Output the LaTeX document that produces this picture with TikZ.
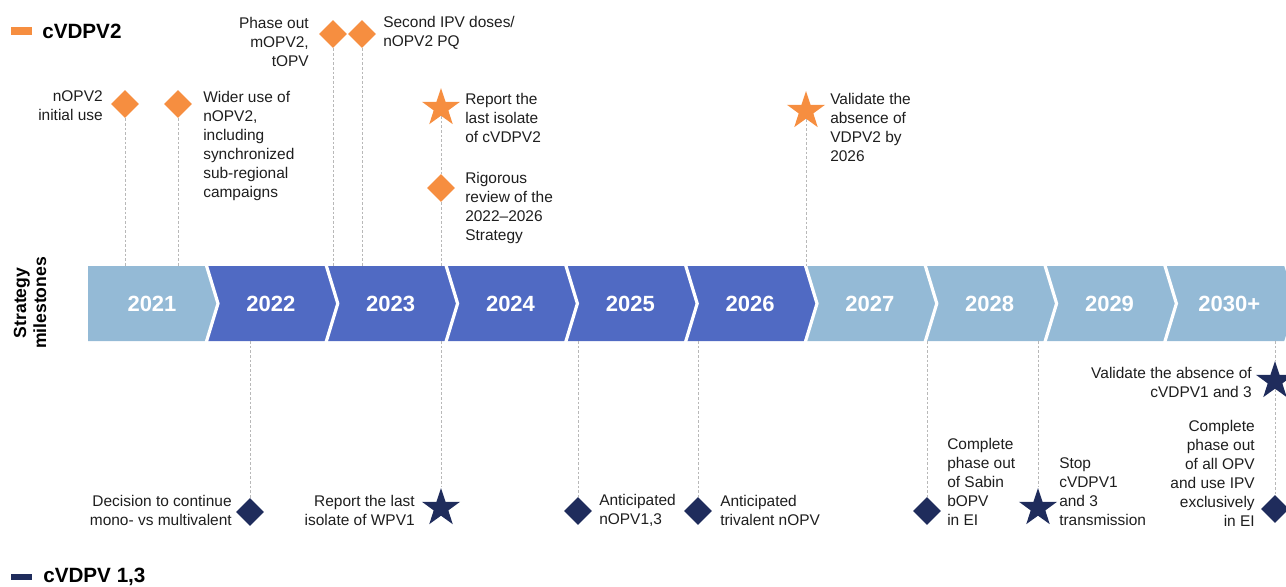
\documentclass[tikz,border=0pt]{standalone}
\usepackage{fontspec}
\setmainfont{Liberation Sans}
\usetikzlibrary{shapes.geometric}
\definecolor{cvo}{RGB}{246,142,64}
\definecolor{cvb}{RGB}{31,44,92}
\definecolor{bandlt}{RGB}{148,186,214}
\definecolor{banddk}{RGB}{80,106,195}
\definecolor{ink}{RGB}{30,30,30}
\tikzstyle{diamo}=[diamond,fill=cvo,minimum size=21pt,inner sep=0pt]
\tikzstyle{diamb}=[diamond,fill=cvb,minimum size=21pt,inner sep=0pt]
\tikzstyle{staro}=[star,star points=5,star point ratio=2.6,fill=cvo,minimum size=30pt,inner sep=0pt]
\tikzstyle{starb}=[star,star points=5,star point ratio=2.6,fill=cvb,minimum size=30pt,inner sep=0pt]
\tikzstyle{txtl}=[anchor=west,align=left,inner sep=0pt,text=ink,font=\fontsize{11.6}{14.25}\selectfont]
\tikzstyle{txtr}=[anchor=east,align=right,inner sep=0pt,text=ink,font=\fontsize{11.6}{14.25}\selectfont]
\tikzstyle{year}=[text=white,inner sep=0pt,font=\bfseries\fontsize{16.5}{18}\selectfont]
\tikzstyle{legend}=[anchor=west,inner sep=0pt,text=black,font=\bfseries\fontsize{15.5}{17}\selectfont]
\tikzstyle{guide}=[draw=black!28,dash pattern=on 2pt off 1.5pt,line width=0.5pt]

\begin{document}
\begin{tikzpicture}[x=0.75pt,y=-0.75pt]
    \useasboundingbox (0,0) rectangle (1286,586);

    % year band
    \foreach \yr/\col [count=\i from 0] in {2021/bandlt,2022/banddk,2023/banddk,2024/banddk,2025/banddk,2026/banddk,2027/bandlt,2028/bandlt,2029/bandlt,2030+/bandlt}
    {
        \pgfmathsetmacro\xl{\i==0 ? 88 : 206+119.8*(\i-1)}
        \pgfmathsetmacro\xr{206+119.8*\i}
        \pgfmathsetmacro\nt{\i==0 ? 0 : 12}
        \fill[\col] (\xl,266) -- (\xr,266) -- (\xr+12,303.5) -- (\xr,341) -- (\xl,341) -- (\xl+\nt,303.5) -- cycle;
        \node[year] (yr\i) at ({(\xl+\xr)/2+5},303.5) {\yr};
    }
    \foreach \i in {0,...,8}
        \draw[white,line width=2.4pt] ({206+119.8*\i},264) -- ({218+119.8*\i},303.5) -- ({206+119.8*\i},343);
    \coordinate (btop) at (0,266);
    \coordinate (bbot) at (0,341);

    \node[rotate=90,align=center,inner sep=0pt,font=\bfseries\fontsize{13.2}{15}\selectfont] (axis) at (30,303) {Strategy\\milestones};

    % legends
    \node[fill=cvo,minimum width=15.5pt,minimum height=5.5pt,inner sep=0pt] (ko) at (21.5,31) {};
    \node[legend] (lo) at (42,31) {cVDPV2};
    \node[fill=cvb,minimum width=15.5pt,minimum height=5pt,inner sep=0pt] (kb) at (21.5,577) {};
    \node[legend] (lb) at (43,577) {cVDPV 1,3};

    % cVDPV2 milestones
    \node[diamo] (o1) at (125,104) {};
    \node[diamo] (o2) at (178,104) {};
    \node[diamo] (o3) at (333,34) {};
    \node[diamo] (o4) at (362,34) {};
    \node[staro] (o5) at (441,108) {};
    \node[diamo] (o6) at (441,188) {};
    \node[staro] (o7) at (806,111) {};

    \node[txtr] (to1) at (103,106) {nOPV2\\initial use};
    \node[txtl] (to2) at (203,146) {Wider use of\\nOPV2,\\including\\synchronized\\sub-regional\\campaigns};
    \node[txtr] (to3) at (309,42) {Phase out\\mOPV2,\\tOPV};
    \node[txtl] (to4) at (383,33) {Second IPV doses/\\nOPV2 PQ};
    \node[txtl] (to5) at (465,118) {Report the\\last isolate\\of cVDPV2};
    \node[txtl] (to6) at (465,208) {Rigorous\\review of the\\2022--2026\\Strategy};
    \node[txtl] (to7) at (830,127) {Validate the\\absence of\\VDPV2 by\\2026};

    \foreach \m in {o1,o2,o3,o4,o6,o7}
    \draw[guide] (\m.south) -- (\m |- btop);
    \draw[guide] (o5.south) -- (o6.north);

    % cVDPV1,3 milestones
    \node[diamb] (b1) at (250,512) {};
    \node[starb] (b2) at (441,508) {};
    \node[diamb] (b3) at (578,511) {};
    \node[diamb] (b4) at (698,511) {};
    \node[diamb] (b5) at (927,511) {};
    \node[starb] (b6) at (1038,508) {};
    \node[starb] (b7) at (1275,381) {};
    \node[diamb] (b8) at (1275,509) {};

    \node[txtr] (tb1) at (232,510) {Decision to continue\\mono- vs multivalent};
    \node[txtr] (tb2) at (415,510) {Report the last\\isolate of WPV1};
    \node[txtl] (tb3) at (599,510) {Anticipated\\nOPV1,3};
    \node[txtl] (tb4) at (720,510) {Anticipated\\trivalent nOPV};
    \node[txtl] (tb5) at (947,482) {Complete\\phase out\\of Sabin\\bOPV\\in EI};
    \node[txtl] (tb6) at (1059,492) {Stop\\cVDPV1\\and 3\\transmission};
    \node[txtr] (tb7) at (1252,382) {Validate the absence of\\cVDPV1 and 3};
    \node[txtr] (tb8) at (1255,473) {Complete\\phase out\\of all OPV\\and use IPV\\exclusively\\in EI};

    \foreach \m in {b1,b2,b3,b4,b5,b6,b7}
    \draw[guide] (\m |- bbot) -- (\m.north);
    \draw[guide] (b7.south) -- (b8.north);
\end{tikzpicture}
\end{document}
